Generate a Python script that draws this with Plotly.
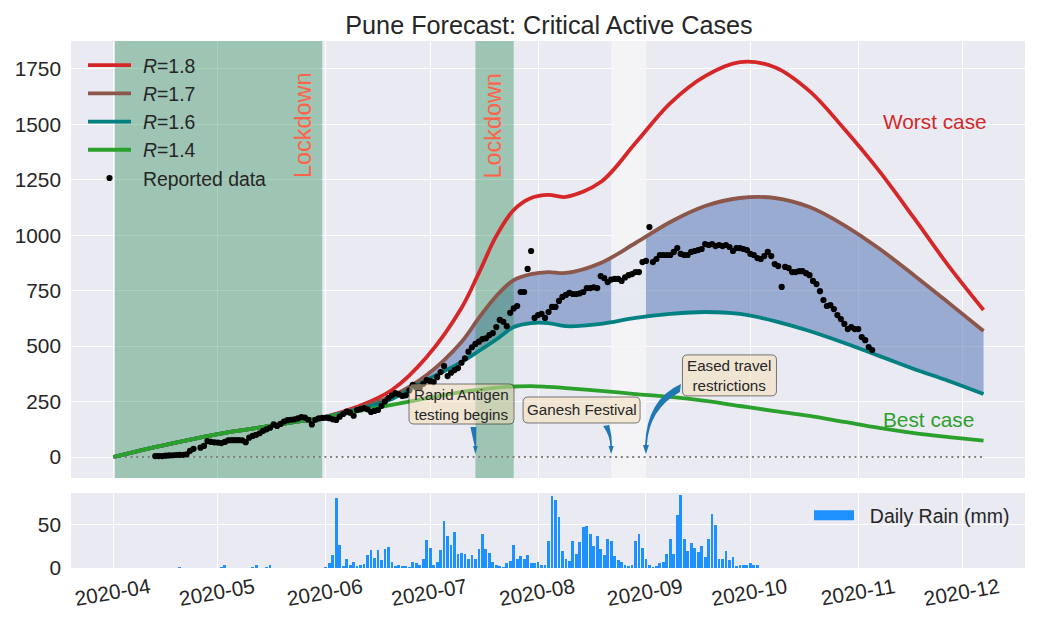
import pandas as pd
import plotly.graph_objects as go

# ---------- data ----------
curve_dates = ["2020-04-01","2020-04-11","2020-04-21","2020-05-01","2020-05-11","2020-05-21","2020-05-31","2020-06-10",
               "2020-06-20","2020-06-30","2020-07-10","2020-07-15","2020-07-20","2020-07-25","2020-07-30","2020-08-04",
               "2020-08-09","2020-08-19","2020-08-29","2020-09-08","2020-09-18","2020-09-28","2020-10-08","2020-10-18",
               "2020-10-28","2020-11-07","2020-11-17","2020-11-27","2020-12-07"]
curve_r14 = [0,38,72,103,128,153,178,206,235,265,293,303,313,318,320,316,311,298,284,271,253,230,207,185,158,131,108,90,74]
curve_r16 = [0,38,72,103,128,153,178,214,262,347,428,478,530,586,604,604,590,600,627,645,654,645,613,568,514,456,397,343,284]
curve_r17 = [0,38,72,103,128,153,178,220,275,370,519,627,726,798,825,834,830,875,965,1060,1132,1168,1168,1127,1045,940,820,695,568]
curve_r18 = [0,38,72,103,128,153,178,226,302,451,672,830,997,1114,1168,1182,1173,1240,1416,1596,1718,1781,1758,1650,1479,1290,1078,861,663]

reported_start = "2020-04-13"
reported = [
    4,4,4,6,7,8,9,10,10,12,
    28,37,None,42,50,72,68,66,65,63,
    68,75,76,76,76,75,67,87,95,100,
    107,118,125,132,147,140,149,160,166,168,
    170,174,180,178,168,147,168,174,176,177,
    175,170,167,182,194,205,200,186,212,216,
    221,215,203,208,212,231,250,266,278,288,
    283,275,278,300,325,315,311,330,347,342,
    338,360,383,410,365,380,392,401,425,445,
    475,495,510,520,532,535,550,559,586,618,
    610,590,650,670,681,744,744,848,929,627,
    640,645,627,654,677,677,704,722,731,740,
    735,735,738,744,762,762,765,762,816,807,
    789,800,803,803,794,810,820,825,834,834,
    879,884,1037,879,893,911,911,911,911,925,
    942,916,911,911,925,929,933,938,960,956,
    960,951,956,951,956,947,929,942,942,938,
    933,916,911,897,893,906,925,906,870,861,
    767,857,852,834,834,838,838,829,820,794,
    780,748,708,681,685,667,640,622,600,577,
    586,577,577,541,527,496,482,
]

rain_early_dates = ["2020-04-20","2020-05-02","2020-05-03","2020-05-11","2020-05-12","2020-05-15","2020-05-16"]
rain_early = [1,1,4,1,3,1,3]
rain_start = "2020-06-01"
rain = [
    1,5.5,15,81,27,2,10,4,7,2,4,5,15,21,12,21,9,22,24,7,
    2,3,2,2,1,7,5.5,4,10,33,23,3,7,21,55,37,
    27,42,16,17,16,11,15,11,22,40,22,17,7,3,2,1,5.5,8,27,11,14,11,15,5.5,5.5,7,4,4,
    31,83,79,59,20,11,8,31,16,30,47,49,39,26,37,22,15,34,31,14,9,7,4,2,3,31,39,23,10,4,
    1,2,5.5,7,16,34,16,62,85,34,20,29,23,19,26,13,34,63,50,11,11,20,9,13,2,4,4,4,5.5,4,3,
]

lockdowns = [("2020-04-01 10:00","2020-05-31"),("2020-07-14","2020-07-25")]
festival = ("2020-08-22","2020-09-01")
y_range = (-94.7, 1876)
x_range = ("2020-03-19 19:00","2020-12-18 22:00")
box_texts = ["Rapid Antigen<br>testing begins","Ganesh Festival","Eased travel<br>restrictions"]
box_dates = ["2020-07-10","2020-08-13 12:00","2020-09-25"]
box_values = [239,212,368]
tip_dates = ["2020-07-14","2020-08-22","2020-09-01"]
tip_value = 13

# ---------- style ----------
FONT = "Liberation Sans"
INK = "#262626"
RED, BROWN, TEAL, GREEN = "#D62728","#8C564B","#008080","#2CA02C"
W, H = 1041, 625
LW = 3.8
TICK = 20.8

reported_dates = pd.date_range(reported_start, periods=len(reported), freq="D")
rain_dates = pd.date_range(rain_start, periods=len(rain), freq="D")

fig = go.Figure()
spline = dict(shape="spline", smoothing=1.0)

# band between R=1.6 and R=1.7
fig.add_trace(go.Scatter(x=curve_dates, y=curve_r17, mode="lines", line=dict(width=0, **spline),
                         showlegend=False, hoverinfo="skip"))
fig.add_trace(go.Scatter(x=curve_dates, y=curve_r16, mode="lines", line=dict(width=0, **spline),
                         fill="tonexty", fillcolor="rgba(72,108,174,0.5)", showlegend=False, hoverinfo="skip"))

def band(start, end, colour):
    fig.add_trace(go.Scatter(x=[start,end,end,start,start],
                             y=[y_range[0],y_range[0],y_range[1],y_range[1],y_range[0]],
                             mode="lines", line=dict(width=0), fill="toself", fillcolor=colour,
                             showlegend=False, hoverinfo="skip"))

for s, e in lockdowns:
    band(s, e, "rgba(46,139,87,0.4)")
band(festival[0], festival[1], "rgba(245,245,248,0.83)")

fig.add_trace(go.Scatter(x=[curve_dates[0],curve_dates[-1]], y=[0,0], mode="lines",
                         line=dict(color="#808080", width=2, dash="2px,3.7px"), showlegend=False, hoverinfo="skip"))

GAP = "\u00a0\u200a"
for name, vals, col in [("<i>R</i>=1.8",curve_r18,RED),("<i>R</i>=1.7",curve_r17,BROWN),
                        ("<i>R</i>=1.6",curve_r16,TEAL),("<i>R</i>=1.4",curve_r14,GREEN)]:
    fig.add_trace(go.Scatter(x=curve_dates, y=vals, mode="lines", name=GAP+name, legendgroup=name,
                             line=dict(color=col, width=LW, **spline)))

fig.add_trace(go.Scatter(x=reported_dates, y=reported, mode="markers", name=GAP+"Reported data",
                         legendgroup="reported", marker=dict(color="black", size=6.2)))

# rain
fig.add_trace(go.Bar(x=rain_early_dates, y=rain_early, xaxis="x2", yaxis="y2", marker=dict(color="#1E90FF", line=dict(width=0)),
                     width=0.8*86400000, showlegend=False))
fig.add_trace(go.Bar(x=rain_dates, y=rain, xaxis="x2", yaxis="y2", marker=dict(color="#1E90FF", line=dict(width=0)),
                     width=0.8*86400000, showlegend=False))
fig.add_trace(go.Scatter(x=[None], y=[None], xaxis="x2", yaxis="y2", mode="lines", name="\u00a0\u00a0Daily Rain (mm)",
                         legend="legend2", line=dict(color="#1E90FF", width=14)))

def rounded(w, h, r=5):
    a, b = w/2, h/2
    return (f"M{-a+r},{-b} L{a-r},{-b} Q{a},{-b} {a},{-b+r} L{a},{b-r} Q{a},{b} {a-r},{b} "
            f"L{-a+r},{b} Q{-a},{b} {-a},{b-r} L{-a},{-b+r} Q{-a},{-b} {-a+r},{-b} Z")

box_sizes = [(105,40),(117,26),(94,41)]
shapes = []
for d, v, (w, h) in zip(box_dates, box_values, box_sizes):
    shapes.append(dict(type="path", xref="x", yref="y", xsizemode="pixel", ysizemode="pixel",
                       xanchor=d, yanchor=v, path=rounded(w,h), layer="above",
                       fillcolor="rgba(245,222,179,0.5)", line=dict(color="rgba(0,0,0,0.5)", width=1)))
arrow_paths = [
    "M-5,27 L1,27 L0.8,8 L2.4,8 L0,0 L-2.4,8 L-0.8,8 Z",
    "M-8,28 L-2,29 Q1,18 0.8,8 L2.6,8 L0,0 L-2.6,8 L-0.8,8 Q-1,18 -8,28 Z",
    "M35,70 L34,62 Q3,45 0.9,9 L3,9 L0,0 L-3,9 L-0.9,9 Q1,55 35,70 Z",
]
for d, p in zip(tip_dates, arrow_paths):
    shapes.append(dict(type="path", xref="x", yref="y", xsizemode="pixel", ysizemode="pixel",
                       xanchor=d, yanchor=tip_value, path=p, layer="above",
                       fillcolor="#1F77B4", line=dict(width=0)))

annotations = []
for d in ["2020-05-25 14:00","2020-07-19 08:00"]:
    annotations.append(dict(x=d, y=1495, xref="x", yref="y", text="Lockdown", showarrow=False, textangle=-90,
                            font=dict(family=FONT, size=23.4, color="#FF6347")))
annotations.append(dict(x="2020-11-07 12:00", y=1511, xref="x", yref="y", text="Worst case", showarrow=False, xanchor="left",
                        font=dict(family=FONT, size=20.8, color=RED)))
annotations.append(dict(x="2020-11-07 12:00", y=167, xref="x", yref="y", text="Best case", showarrow=False, xanchor="left",
                        font=dict(family=FONT, size=20.8, color=GREEN)))
for t, d, v in zip(box_texts, box_dates, box_values):
    annotations.append(dict(x=d, y=v, xref="x", yref="y", text=t, showarrow=False,
                            font=dict(family=FONT, size=15.2, color=INK)))

axis_x = dict(type="date", range=list(x_range), dtick="M1", tick0="2020-04-01", showgrid=True, gridcolor="white",
              gridwidth=1.3, zeroline=False, showline=False, ticks="", automargin=False)
fig.update_layout(
    template="none",
    width=W, height=H, autosize=False, margin=dict(l=0,r=0,t=0,b=0,autoexpand=False), paper_bgcolor="white", plot_bgcolor="#EAEAF2",
    font=dict(family=FONT, color=INK, size=TICK),
    title=dict(text="Pune Forecast: Critical Active Cases", x=549/W, xanchor="center", y=1-25/H, yanchor="middle",
               font=dict(family=FONT, size=25.2, color=INK)),
    xaxis=dict(domain=[71/W,1025/W], showticklabels=False, matches="x2", **axis_x),
    xaxis2=dict(domain=[71/W,1025/W], anchor="y2", tickformat="%Y-%m", tickangle=-10, tickfont=dict(size=TICK),
                ticklabelshift=36, ticklabelstandoff=3, **axis_x),
    yaxis=dict(domain=[1-478/H,1-41/H], range=list(y_range), tickvals=[0,250,500,750,1000,1250,1500,1750],
               showgrid=True, gridcolor="white", gridwidth=1.3, zeroline=False, ticks="", ticklabelstandoff=9, automargin=False),
    yaxis2=dict(domain=[1-568/H,1-493/H], anchor="x2", range=[0,87], tickvals=[0,50], showgrid=True,
                gridcolor="white", gridwidth=1.3, zeroline=False, ticks="", ticklabelstandoff=9, automargin=False),
    barmode="overlay", bargap=0,
    legend=dict(x=83/W, xanchor="left", y=1-46/H, yanchor="top", bgcolor="rgba(0,0,0,0)", borderwidth=0,
                font=dict(family=FONT, size=19.4, color=INK), itemwidth=43, tracegroupgap=2.4, traceorder="normal"),
    legend2=dict(x=809/W, xanchor="left", y=1-496/H, yanchor="top", bgcolor="rgba(0,0,0,0)", borderwidth=0,
                 font=dict(family=FONT, size=19.5, color=INK), itemwidth=40),
    shapes=shapes, annotations=annotations,
)

fig.write_html("out.html", config=dict(displayModeBar=False),
               post_script="document.body.style.margin='0';document.documentElement.style.overflow='hidden';")
